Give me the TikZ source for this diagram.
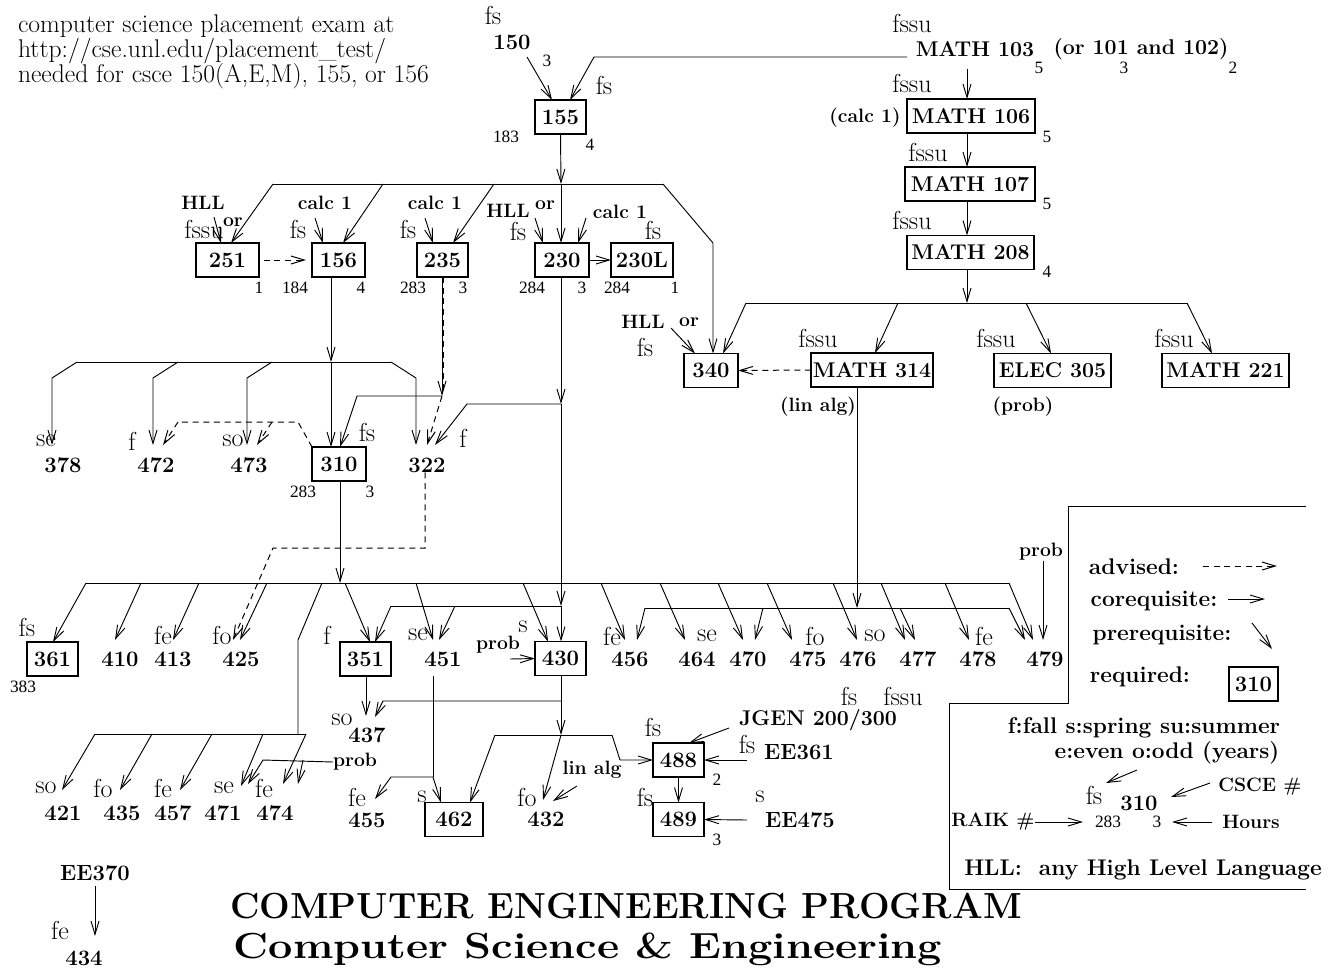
\documentclass[tikz,border=0pt]{standalone}
\usepackage{fontspec}
\usepackage{graphicx}
\newfontfamily\timesf{Liberation Serif}
\usetikzlibrary{arrows.meta,calc}
\begin{document}
\begin{tikzpicture}[x=0.75pt,y=-0.75pt,
 base/.style={inner sep=0pt,outer sep=0pt},
 num/.style={base,font=\fontsize{16.5}{16.5}\selectfont\bfseries},
 mfont/.style={font=\fontsize{16}{16}\selectfont\bfseries},
 lab/.style={base,font=\fontsize{19.5}{19.5}\selectfont},
 para/.style={base,font=\fontsize{19.2}{19.2}\selectfont},
 sm/.style={base,font=\fontsize{13}{13}\selectfont\timesf},
 bl/.style={base,font=\fontsize{14.5}{14.5}\selectfont\bfseries},
 leg/.style={base,font=\fontsize{17}{17}\selectfont\bfseries},
 bx/.style={num,draw,line width=0.8pt,minimum width=#1*0.75pt,minimum height=25.5pt},
 mbx/.style={bx=#1,mfont},
 con/.style={line width=0.7pt},
 pre/.style={con,-{Straight Barb[length=10pt,width=6pt]}},
 advl/.style={line width=0.75pt,dash pattern=on 4.5pt off 3.5pt},
 adv/.style={advl,-{Straight Barb[length=10pt,width=6pt]}},
]
\useasboundingbox (0,0) rectangle (1333,968);
\fill[white] (0,0) rectangle (1333,968);

% ---------- top-left note
\node[para,anchor=base west] (p1) at (18,32) {computer science placement exam at};
\node[para,anchor=base west] (p2) at (18,57) {http://cse.unl.edu/placement\_test/};
\node[para,anchor=base west] (p3) at (18,82) {needed for csce 150(A,E,M), 155, or 156};

% ---------- top
\node[lab] (l150) at (493,15) {fs};
\node[num] (n150) at (512,42) {150};
\node[sm] (h150) at (547,61) {3};
\node[lab] (l155) at (604,85) {fs};
\node[bx=51] (b155) at (560.5,117) {155};
\node[sm] (r155) at (506,137) {183};
\node[sm] (h155) at (590,145) {4};

\node[lab] (l103) at (912,23) {fssu};
\node[num,mfont] (t103) at (975,49.5) {MATH 103};
\node[num,mfont] (t103b) at (1141,49.5) {(or 101 and 102)};
\node[sm] (h103) at (1039,68) {5};
\node[sm] (h101) at (1124,68) {3};
\node[sm] (h102) at (1233,68) {2};

\coordinate (c150) at (527,57);
\draw[pre] (c150) -- (b155.north -| 552,0);
\coordinate (c103) at (907,57);
\draw[pre] (c103) -- (594,57) -- (b155.north -| 570,0);

% ---------- math column
\node[lab] (l106) at (912,83) {fssu};
\node[mbx=128] (m106) at (971,116) {MATH 106};
\node[bl] (calc106) at (865,118) {(calc 1)};
\node[sm] (h106) at (1047,137) {5};
\node[lab] (l107) at (928,152) {fssu};
\node[mbx=130] (m107) at (970,184) {MATH 107};
\node[sm] (h107) at (1047,204) {5};
\node[lab] (l208) at (912,220) {fssu};
\node[mbx=127] (m208) at (970.5,252.5) {MATH 208};
\node[sm] (h208) at (1047,272) {4};

\coordinate (c103d) at (967,69);
\draw[pre] (c103d) -- (m106.north -| 967,0);
\draw[pre] (m106.south -| 967,0) -- (m107.north -| 967,0);
\draw[pre] (m107.south -| 967,0) -- (m208.north -| 967,0);
\coordinate (j208) at (967,303);
\draw[pre] (m208.south -| 967,0) -- (j208);
\draw[con] (746,303) -- (1187,303);

\node[bx=54] (b340) at (711,370.5) {340};
\node[mbx=122] (m314) at (872,370) {MATH 314};
\node[mbx=117] (e305) at (1052.5,370.5) {ELEC 305};
\node[mbx=127] (m221) at (1225.5,370.5) {MATH 221};
\node[lab] (l314) at (818,338) {fssu};
\node[lab] (l305) at (996,338) {fssu};
\node[lab] (l221) at (1174,338) {fssu};
\node[bl] (lin314) at (818,407) {(lin alg)};
\node[bl] (prob305) at (1023,407) {(prob)};
\node[bl] (hll340) at (643,322) {HLL};
\node[bl] (or340) at (689,322) {or};
\node[lab] (l340) at (645,347) {fs};

\draw[pre] (746,303) -- (b340.north -| 723,0);
\draw[pre] (898,303) -- (m314.north -| 875,0);
\draw[pre] (1026,303) -- (e305.north -| 1051,0);
\draw[pre] (1187,303) -- (m221.north -| 1212,0);
\coordinate (c340) at (671,328);
\draw[pre] (c340) -- (b340.north -| 695,0);
\draw[adv] (m314.west) -- (b340.east);

% ---------- second row
\node[bx=63] (b251) at (227.5,260) {251};
\node[bx=53] (b156) at (338.5,260) {156};
\node[bx=51] (b235) at (442.5,260) {235};
\node[bx=54] (b230) at (562,260) {230};
\node[bx=62] (b230L) at (642,260) {230L};

\node[bl] (hll251) at (203,203) {HLL};
\node[lab] (l251) at (204,229) {fssu};
\node[bl] (or251) at (233,222) {or};
\node[bl] (calc156) at (325,203) {calc 1};
\node[lab] (l156) at (298,229) {fs};
\node[bl] (calc235) at (435,203) {calc 1};
\node[lab] (l235) at (408,229) {fs};
\node[bl] (hll230) at (508,211) {HLL};
\node[bl] (or230) at (545,205) {or};
\node[lab] (l230) at (518,231) {fs};
\node[bl] (calc230) at (620,212) {calc 1};
\node[lab] (l230L) at (653,230) {fs};

\node[sm] (h251) at (259,288) {1};
\node[sm] (r156) at (295,288) {184};
\node[sm] (h156) at (361,288) {4};
\node[sm] (r235) at (413,288) {283};
\node[sm] (h235) at (463,288) {3};
\node[sm] (r230) at (532,288) {284};
\node[sm] (h230) at (582,288) {3};
\node[sm] (r230L) at (617,288) {284};
\node[sm] (h230L) at (675,288) {1};

\coordinate (j155) at (561,184);
\draw[pre] (b155.south) -- (j155);
\draw[con] (273,184) -- (663,184);
\draw[pre] (273,184) -- (b251.north -| 231,0);
\draw[pre] (383,184) -- (b156.north -| 343,0);
\draw[pre] (494,184) -- (b235.north -| 453,0);
\draw[pre] (j155) -- (b230.north -| 561,0);
\draw[pre] (663,184) -- (713,243) -- (b340.north -| 713,0);

\draw[pre] (214,217) -- (b251.north -| 221,0);
\draw[pre] (315,218) -- (b156.north -| 323,0);
\draw[pre] (425,218) -- (b235.north -| 433,0);
\draw[pre] (535,218) -- (b230.north -| 543,0);
\draw[pre] (586,218) -- (b230.north -| 578,0);
\draw[adv] ([xshift=3.5pt]b251.east) -- ([xshift=-4.5pt]b156.west);
\draw[pre] (b230.east) -- (b230L.west);

% ---------- third row
\node[num] (n378) at (63,465) {378};
\node[num] (n472) at (156,465) {472};
\node[num] (n473) at (249,465) {473};
\node[bx=54] (b310) at (339,464) {310};
\node[num] (n322) at (427,465) {322};
\node[lab] (l378) at (46,441) {se};
\node[lab] (l472) at (132,441) {f};
\node[lab] (l473) at (233,441) {so};
\node[lab] (l310) at (367,432) {fs};
\node[lab] (l322) at (463,438) {f};
\node[sm] (r310) at (303,492) {283};
\node[sm] (h310) at (370,492) {3};

\coordinate (j156) at (331,362);
\draw[pre] (b156.south -| 331,0) -- (j156);
\draw[con] (77,362) -- (391,362);
\draw[pre] (j156) -- (b310.north -| 331,0);
\draw[pre] (77,362) -- (52,378) -- (52,445);
\draw[pre] (178,362) -- (153,378) -- (153,445);
\draw[pre] (272,362) -- (247,378) -- (247,445);
\draw[pre] (391,362) -- (416,378) -- (416,445);

\coordinate (j235) at (442,396);
\draw[pre] (b235.south -| 442,0) -- (j235);
\draw[advl,line width=0.6pt] (b235.south -| 443,0) -- (443,394);
\draw[pre] (j235) -- (357,396) -- (b310.north -| 340,0);
\draw[adv] (j235) -- (427,445);

\coordinate (j230a) at (561,404);
\draw[pre] (b230.south -| 561,0) -- (j230a);
\draw[pre] (j230a) -- (467,404) -- (435,445);
\coordinate (j230b) at (561,606);
\draw[pre] (j230a) -- (j230b);

\draw[advl] (b310.north west) -- (298,422) -- (178,422);
\draw[adv] (178,422) -- (163,445);
\draw[adv] (272,422) -- (257,445);

\draw[adv] (n322.south -| 425,0) -- (425,548) -- (273,548) -- (233,640);

% ---------- main 4xx bus
\coordinate (j310) at (340,583);
\draw[pre] (b310.south -| 340,0) -- (j310);
\draw[con] (86,583) -- (1009,583);

\node[bx=51] (b361) at (52.5,659) {361};
\node[num] (n410) at (120,659) {410};
\node[num] (n413) at (173,659) {413};
\node[num] (n425) at (241,659) {425};
\node[bx=51] (b351) at (365.5,659) {351};
\node[num] (n451) at (443,659) {451};
\node[bx=51] (b430) at (560.5,658.5) {430};
\node[num] (n456) at (630,659) {456};
\node[num] (n464) at (697,659) {464};
\node[num] (n470) at (748,659) {470};
\node[num] (n475) at (808,659) {475};
\node[num] (n476) at (858,659) {476};
\node[num] (n477) at (918,659) {477};
\node[num] (n478) at (978,659) {478};
\node[num] (n479) at (1045,659) {479};

\node[lab] (l361) at (27,627) {fs};
\node[sm] (r361) at (23,687) {383};
\node[lab] (l413) at (163,635) {fe};
\node[lab] (l425) at (222,635) {fo};
\node[lab] (l351) at (327,635) {f};
\node[lab] (l451) at (418,635) {se};
\node[lab] (l430) at (523,627) {s};
\node[bl] (prob430) at (498,645) {prob};
\node[lab] (l456) at (612,636) {fe};
\node[lab] (l464) at (707,636) {se};
\node[lab] (l475) at (815,636) {fo};
\node[lab] (l476) at (875,636) {so};
\node[lab] (l478) at (984,636) {fe};
\node[bl] (prob479) at (1041,552) {prob};

\draw[pre] (86,583) -- (b361.north -| 53,0);
\draw[pre] (141,583) -- (115,640);
\draw[pre] (199,583) -- (173,640);
\draw[pre] (267,583) -- (240,640);
\draw[con] (322,583) -- (298,640) -- (298,734);
\draw[pre] (345,583) -- (b351.north -| 370,0);
\draw[pre] (416,583) -- (433,640);
\draw[pre] (523,583) -- (b430.north -| 548,0);
\draw[pre] (601,583) -- (625,640);
\draw[pre] (660,583) -- (685,640);
\draw[pre] (718,583) -- (743,640);
\draw[pre] (767,583) -- (792,640);
\draw[pre] (833,583) -- (857,640);
\draw[pre] (881,583) -- (905,640);
\draw[pre] (945,583) -- (969,640);
\draw[pre] (1009,583) -- (1033,640);

% 230 branch to 351/451/430
\draw[pre] (j230b) -- (b430.north -| 561,0);
\draw[con] (j230b) -- (391,606);
\draw[pre] (391,606) -- (b351.north -| 375,0);
\draw[pre] (455,606) -- (439,640);

% lin alg bus
\coordinate (j314) at (857,608);
\draw[pre] (m314.south -| 857,0) -- (j314);
\draw[con] (645,608) -- (1009,608);
\draw[pre] (645,608) -- (637,640);
\draw[pre] (763,608) -- (755,640);
\draw[pre] (900,608) -- (915,640);
\draw[pre] (1009,608) -- (1025,640);
\draw[pre] (prob479.south -| 1043,0) -- (1043,640);
\draw[pre] (510,659) -- (b430.west);

% ---------- lower-left group
\draw[con] (95,734) -- (306,734);
\draw[pre] (95,734) -- (62,790);
\draw[pre] (152,734) -- (120,790);
\draw[pre] (212,734) -- (180,790);
\draw[pre] (263,734) -- (241,786);
\draw[pre] (306,734) -- (283,784);
\node[bl] (prob47) at (355,762) {prob};
\draw[pre] (prob47.west) -- (263,760) -- (248,784);
\draw[pre] (303,760) -- (298,784);

\node[lab] (l421) at (46,788) {so};
\node[num] (n421) at (63,813) {421};
\node[lab] (l435) at (103,788) {fo};
\node[num] (n435) at (122,813) {435};
\node[lab] (l457) at (163,788) {fe};
\node[num] (n457) at (173,813) {457};
\node[lab] (l471) at (224,788) {se};
\node[num] (n471) at (223,813) {471};
\node[lab] (l474) at (264,788) {fe};
\node[num] (n474) at (275,813) {474};

% ---------- lower centre
\node[lab] (l437) at (342,720) {so};
\node[num] (n437) at (367,735) {437};
\draw[pre] (b351.south -| 366,0) -- (366,716);
\coordinate (j430a) at (561,701);
\draw[pre] (j430a) -- (383,701) -- (375,717);

\node[lab] (l455) at (357,797) {fe};
\node[num] (n455) at (367,820) {455};
\node[bx=58] (b462) at (454,819.5) {462};
\node[lab] (l462) at (422,797) {s};
\node[lab] (l432) at (527,797) {fo};
\node[num] (n432) at (546,819) {432};
\node[bl] (lin432) at (592,770) {lin alg};
\draw[pre] (577,786) -- (553,801);

\coordinate (j451) at (433,777);
\draw[con] (433,676) -- (j451);
\draw[pre] (j451) -- (b462.north -| 441,0);
\draw[pre] (j451) -- (391,777) -- (375,799);

\node[bx=51] (b488) at (678.5,760) {488};
\node[bx=51] (b489) at (678.5,819.5) {489};
\node[lab] (l488) at (653,727) {fs};
\node[sm] (h488) at (717,780) {2};
\node[lab] (l489) at (645,797) {fs};
\node[sm] (h489) at (717,840) {3};

\coordinate (j430b) at (561,735);
\draw[pre] (b430.south -| 561,0) -- (j430b);
\draw[con] (495,735) -- (612,735);
\draw[pre] (612,735) -- (620,760) -- (b488.west);
\draw[pre] (495,735) -- (b462.north -| 470,0);
\draw[pre] (j430b) -- (543,800);

\node[num,mfont] (jgen) at (818,720) {JGEN 200/300};
\node[lab] (ljg1) at (849,696) {fs};
\node[lab] (ljg2) at (903,696) {fssu};
\node[num] (ee361) at (799,752) {EE361};
\node[lab] (lee361) at (747,744) {fs};
\node[num] (ee475) at (800,820) {EE475};
\node[lab] (lee475) at (760,797) {s};
\draw[pre] (729,728) -- (b488.north -| 689,0);
\draw[pre] (747,760) -- (b488.east);
\draw[pre] (b488.south) -- (b489.north);
\draw[pre] (747,820) -- (b489.east);

% ---------- EE370
\node[num] (ee370) at (95,873) {EE370};
\node[lab] (l434) at (60,930) {fe};
\node[num] (n434) at (84,958) {434};
\draw[pre] (ee370.south |- 0,886) -- (95,936);

% ---------- legend
\draw[con] (1306,506) -- (1068,506) -- (1068,703) -- (949,703) -- (949,889) -- (1306,889);
\node[leg] (gadv) at (1134,567) {advised:};
\draw[adv] (1203,566) -- (1277,566);
\node[leg] (gco) at (1154,601) {corequisite:};
\draw[pre] (1228,599) -- (1265,599);
\node[leg] (gpre) at (1162,635) {prerequisite:};
\draw[pre] (1252,623) -- (1272,649);
\node[leg] (greq) at (1140,677) {required:};
\node[bx=49] (g310) at (1253.5,684) {310};
\node[leg] (gsea) at (1144,728) {f:fall s:spring su:summer};
\node[leg] (gyr) at (1167,753) {e:even o:odd (years)};
\node[lab] (gfs) at (1094,795) {fs};
\node[num] (gnum) at (1139,803) {310};
\node[bl] (gcsce) at (1260,787) {CSCE \#};
\node[bl] (graik) at (993,822) {RAIK \#};
\node[sm] (graikn) at (1108,822) {283};
\node[sm] (ghr) at (1157,822) {3};
\node[bl] (ghours) at (1251,822) {Hours};
\draw[pre] (1137,770) -- (1106,783);
\draw[pre] (1210,783) -- (1171,797);
\draw[pre] (1035,822) -- (1083,822);
\draw[pre] (1212,822) -- (1172,822);
\node[leg] (ghll) at (1143,870) {HLL:\ \ any High Level Language};

% ---------- title
\node[base,font=\fontsize{27.2}{27.2}\selectfont\bfseries] (title1) at (626,906) {COMPUTER ENGINEERING PROGRAM};
\node[base,font=\fontsize{27.2}{27.2}\selectfont\bfseries] (title2) at (588,949) {\scalebox{1.19}[1]{Computer Science \& Engineering}};
\end{tikzpicture}
\end{document}
